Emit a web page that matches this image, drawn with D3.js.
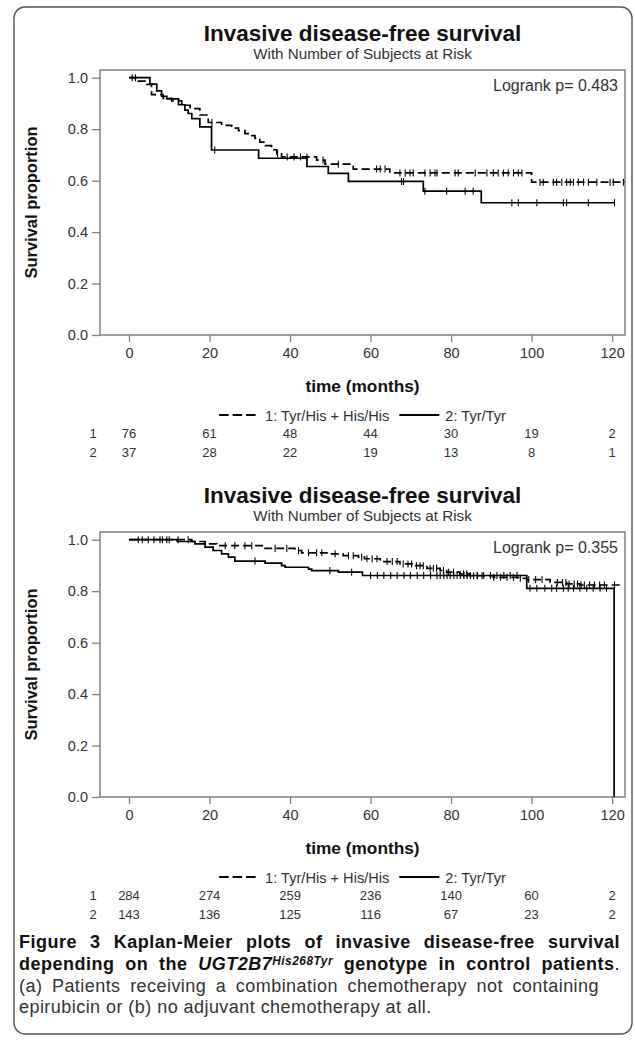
<!DOCTYPE html>
<html><head><meta charset="utf-8">
<script src="https://cdn.jsdelivr.net/npm/d3@7"></script>
<style>
body{margin:0;background:#fff}
svg{display:block}
.chart text{font-family:"Liberation Sans",Arial,sans-serif}
.cap text{font-family:"Liberation Sans",Arial,sans-serif}
</style>
</head><body>
<svg id="c" width="635" height="1045"></svg>
<script>
// ---------- shared labels ----------
const xTicks = [0, 20, 40, 60, 80, 100, 120];
const yTicks = [0, 0.2, 0.4, 0.6, 0.8, 1.0];
const groupLabels = ["1: Tyr/His + His/His", "2: Tyr/Tyr"];
const riskRowLabels = ["1", "2"];
const chartTitle = "Invasive disease-free survival";
const chartSubtitle = "With Number of Subjects at Risk";
const xLabel = "time (months)";
const yLabel = "Survival proportion";

// ---------- panel A (top) ----------
const aPValue = "0.483";
const aRisk1 = [76, 61, 48, 44, 30, 19, 2];
const aRisk2 = [37, 28, 22, 19, 13, 8, 1];
const aG1Times = [2.3, 4.4, 5.6, 8.5, 10.6, 13.1, 15.2, 17.6, 19.7, 23.0, 25.5, 27.2, 28.8, 30.1, 31.3, 32.5, 33.8, 35.4, 36.7, 37.9, 46.6, 48.7, 55.7, 64.8, 100.0];
const aG1Surv  = [0.987, 0.974, 0.934, 0.920, 0.910, 0.893, 0.880, 0.855, 0.826, 0.815, 0.804, 0.794, 0.783, 0.775, 0.764, 0.750, 0.736, 0.720, 0.704, 0.692, 0.680, 0.664, 0.645, 0.630, 0.594];
const aG1End = 123.2;
const aG1Censor = [0.8, 1.6, 20.6, 36.9, 39.3, 41.0, 42.6, 44.2, 48.2, 52.0, 61.5, 62.4, 63.6, 67.3, 68.6, 69.8, 70.6, 73.5, 74.8, 76.0, 76.5, 81.0, 81.8, 86.0, 88.9, 90.5, 91.7, 93.0, 94.2, 95.5, 96.7, 97.6, 102.1, 102.9, 105.4, 106.2, 107.5, 108.7, 109.6, 110.4, 111.6, 112.9, 114.1, 116.2, 119.5, 120.3, 122.8];
const aG2Times = [5.2, 6.9, 8.1, 9.4, 12.3, 13.9, 14.7, 15.6, 17.6, 20.5, 32.2, 44.2, 49.5, 54.5, 73.1, 87.5];
const aG2Surv  = [0.975, 0.949, 0.928, 0.918, 0.895, 0.874, 0.861, 0.841, 0.809, 0.719, 0.687, 0.655, 0.628, 0.597, 0.559, 0.514];
const aG2End = 120.6;
const aG2Censor = [21.3, 67.7, 68.2, 73.5, 78.9, 83.5, 85.5, 95.1, 96.7, 101.3, 107.9, 108.7, 114.1, 120.6];

// ---------- panel B (bottom) ----------
const bPValue = "0.355";
const bRisk1 = [284, 274, 259, 236, 140, 60, 2];
const bRisk2 = [143, 136, 125, 116, 67, 23, 2];
const bG1Times = [15.6, 18.9, 21.8, 33.4, 41.2, 42.9, 49.5, 53.2, 57.0, 58.5, 62.4, 67.3, 70.6, 74.0, 77.3, 78.9, 82.2, 84.7, 90.5, 97.1, 98.8, 104.6, 108.7, 112.0];
const bG1Surv  = [0.993, 0.984, 0.977, 0.966, 0.958, 0.949, 0.945, 0.938, 0.932, 0.926, 0.915, 0.906, 0.899, 0.889, 0.880, 0.874, 0.867, 0.860, 0.854, 0.850, 0.845, 0.834, 0.828, 0.824];
const bG1End = 122.4;
const bG1Censor = [2.3, 4.8, 7.7, 9.4, 12.2, 14.7, 23.9, 26.3, 28.8, 30.5, 36.3, 39.2, 42.1, 44.6, 46.6, 47.9, 51.2, 54.5, 55.7, 57.8, 59.1, 60.4, 61.6, 64.1, 65.4, 66.6, 68.1, 69.3, 70.2, 71.4, 72.3, 73.1, 74.8, 75.6, 76.4, 78.1, 79.4, 80.6, 83.1, 83.9, 85.6, 86.5, 87.7, 90.6, 92.3, 93.9, 95.5, 97.2, 99.3, 101.0, 102.6, 106.4, 107.7, 108.5, 109.3, 110.6, 111.4, 112.3, 113.1, 114.4, 115.6, 116.9, 118.1, 120.6];
const bG2Times = [12.0, 16.4, 18.9, 20.9, 23.0, 24.7, 26.3, 33.8, 37.9, 38.8, 44.6, 45.4, 52.0, 58.0, 98.8, 120.5];
const bG2Surv  = [0.993, 0.984, 0.971, 0.958, 0.945, 0.932, 0.917, 0.909, 0.899, 0.893, 0.886, 0.880, 0.874, 0.861, 0.811, 0.0];
const bG2End = 120.5;
const bG2Censor = [3.3, 6.2, 8.3, 10.0, 31.3, 49.9, 55.3, 60.0, 61.7, 63.3, 65.0, 66.6, 68.3, 69.9, 71.6, 73.2, 74.9, 76.5, 77.3, 78.2, 79.0, 79.8, 80.7, 81.5, 82.3, 83.2, 84.0, 84.8, 86.5, 88.1, 89.8, 91.4, 93.1, 94.7, 96.4, 99.6, 101.3, 103.3, 105.0, 106.2, 107.9, 109.1, 110.4, 112.0, 113.7, 115.3, 117.0, 118.6];

// ---------- caption ----------
const captionBold1 = "Figure 3 Kaplan-Meier plots of invasive disease-free survival";
const captionBold2a = "depending on the ";
const captionGene = "UGT2B7";
const captionSup = "His268Tyr";
const captionBold2b = " genotype in control patients";
const captionLine3 = "(a) Patients receiving a combination chemotherapy not containing";
const captionLine4 = "epirubicin or (b) no adjuvant chemotherapy at all.";

// ---------- drawing ----------
const svg = d3.select("#c");
svg.append("rect").attr("x", 14).attr("y", 7).attr("width", 618).attr("height", 1027)
  .attr("rx", 11).attr("fill", "none").attr("stroke", "#555").attr("stroke-width", 1.4);

const L = 100, R = 625, PH = 265;
const x = d3.scaleLinear().domain([-7.2, 123.2]).range([L, R]);
const FRAME = "#808080", TXT = "#333";

function makeSeries(times, surv, end) {
  const pts = [{t: 0, s: 1}];
  times.forEach((t, i) => pts.push({t, s: surv[i]}));
  pts.push({t: end, s: surv[surv.length - 1]});
  return pts;
}
function survAt(pts, t) {
  let s = 1;
  for (const p of pts) { if (p.t <= t) s = p.s; }
  return s;
}

function panel(top, id, pval, risk1, risk2, g1, g1c, g2, g2c) {
  const g = svg.append("g").attr("class", "chart");
  const y = d3.scaleLinear().domain([0, 1.03]).range([top + PH, top]);
  const bot = top + PH, cx = (L + R) / 2;

  g.append("text").attr("x", cx).attr("y", top - 29).attr("text-anchor", "middle")
    .attr("font-size", 22.5).attr("font-weight", "bold").attr("fill", "#111").text(chartTitle);
  g.append("text").attr("x", cx).attr("y", top - 11.5).attr("text-anchor", "middle")
    .attr("font-size", 15.2).attr("fill", TXT).text(chartSubtitle);

  const clipId = "clip" + id;
  g.append("clipPath").attr("id", clipId).append("rect")
    .attr("x", L).attr("y", top - 2).attr("width", R - L).attr("height", PH + 4);

  const ya = g.append("g").attr("transform", `translate(${L},0)`)
    .call(d3.axisLeft(y).tickValues(yTicks).tickFormat(d3.format(".1f")).tickSize(8).tickPadding(4));
  const xa = g.append("g").attr("transform", `translate(0,${bot})`)
    .call(d3.axisBottom(x).tickValues(xTicks).tickFormat(d3.format("d")).tickSize(7).tickPadding(6));
  [ya, xa].forEach(a => {
    a.select(".domain").remove();
    a.selectAll(".tick line").attr("stroke", FRAME).attr("stroke-width", 1.3);
    a.selectAll(".tick text").attr("font-size", 14.5).attr("fill", TXT)
      .attr("font-family", '"Liberation Sans",Arial,sans-serif');
  });
  g.append("rect").attr("x", L).attr("y", top).attr("width", R - L).attr("height", PH)
    .attr("fill", "none").attr("stroke", FRAME).attr("stroke-width", 1.5);

  g.append("text").attr("transform", `translate(37,${top + PH / 2}) rotate(-90)`)
    .attr("text-anchor", "middle").attr("font-size", 16.5).attr("font-weight", "bold")
    .attr("fill", "#111").text(yLabel);
  g.append("text").attr("x", cx).attr("y", bot + 57).attr("text-anchor", "middle")
    .attr("font-size", 17.3).attr("font-weight", "bold").attr("fill", "#111").text(xLabel);

  g.append("text").attr("x", 618).attr("y", top + 20.5).attr("text-anchor", "end")
    .attr("font-size", 16).attr("fill", TXT).text("Logrank p= " + pval);

  const line = d3.line().x(d => x(d.t)).y(d => y(d.s)).curve(d3.curveStepAfter);
  const plot = g.append("g").attr("clip-path", `url(#${clipId})`);
  const series = [
    {pts: g1, cen: g1c, dash: "8,4"},
    {pts: g2, cen: g2c, dash: null}
  ];
  series.forEach(sr => {
    plot.append("path").attr("d", line(sr.pts)).attr("fill", "none").attr("stroke", "#000")
      .attr("stroke-width", 1.7).attr("stroke-dasharray", sr.dash);
    plot.selectAll(null).data(sr.cen).enter().append("line")
      .attr("x1", d => x(d)).attr("x2", d => x(d))
      .attr("y1", d => y(survAt(sr.pts, d)) - 3.5).attr("y2", d => y(survAt(sr.pts, d)) + 3.5)
      .attr("stroke", "#000").attr("stroke-width", 1.1);
  });

  const lg = g.append("g");
  let lx = 0;
  const ly = bot + 80;
  groupLabels.forEach((lab, i) => {
    lg.append("line").attr("x1", lx).attr("x2", lx + 40).attr("y1", ly).attr("y2", ly)
      .attr("stroke", "#000").attr("stroke-width", 1.8).attr("stroke-dasharray", i === 0 ? "9.5,4" : null);
    const t = lg.append("text").attr("x", lx + 46).attr("y", ly + 5.5).attr("font-size", 14.6)
      .attr("fill", TXT).text(lab);
    lx += 46 + t.node().getComputedTextLength() + 10;
  });
  const lw = lx - 10;
  lg.attr("transform", `translate(${cx - lw / 2},0)`);

  [risk1, risk2].forEach((row, r) => {
    const yy = bot + 103 + r * 19;
    g.append("text").attr("x", 93).attr("y", yy).attr("text-anchor", "middle")
      .attr("font-size", 13).attr("fill", TXT).text(riskRowLabels[r]);
    g.selectAll(null).data(row).enter().append("text")
      .attr("x", (d, i) => x(xTicks[i])).attr("y", yy).attr("text-anchor", "middle")
      .attr("font-size", 13).attr("fill", TXT).text(d => d);
  });
}

panel(70, "a", aPValue, aRisk1, aRisk2,
  makeSeries(aG1Times, aG1Surv, aG1End), aG1Censor,
  makeSeries(aG2Times, aG2Surv, aG2End), aG2Censor);
panel(532, "b", bPValue, bRisk1, bRisk2,
  makeSeries(bG1Times, bG1Surv, bG1End), bG1Censor,
  makeSeries(bG2Times, bG2Surv, bG2End), bG2Censor);

// ---------- caption ----------
const cap = svg.append("g").attr("class", "cap");
const CX = 19;
function justify(t, width) {
  let len = t.node().getComputedTextLength();
  const txt = t.text();
  const spaces = (txt.match(/ /g) || []).length;
  if (len >= width) return;
  const ls = Math.min(0.5, (width - len) * 0.5 / txt.length);
  t.attr("letter-spacing", ls);
  len = t.node().getComputedTextLength();
  if (spaces > 0 && len < width) t.attr("word-spacing", (width - len) / spaces);
}
const probeB = cap.append("text").attr("font-size", 16).attr("font-weight", "bold").text(captionBold1);
const boldSize = Math.min(18, 16 * 594 / probeB.node().getComputedTextLength());
probeB.remove();
const probeR = cap.append("text").attr("font-size", 16).text(captionLine4);
const regSize = Math.min(18, 16 * 441 / probeR.node().getComputedTextLength());
probeR.remove();

const c1 = cap.append("text").attr("x", CX).attr("y", 948).attr("font-size", boldSize)
  .attr("font-weight", "bold").attr("fill", "#111").text(captionBold1);
justify(c1, 601);
const c2 = cap.append("text").attr("x", CX).attr("y", 970).attr("font-size", boldSize)
  .attr("font-weight", "bold").attr("fill", "#111");
c2.append("tspan").text(captionBold2a);
c2.append("tspan").attr("font-style", "italic").text(captionGene);
c2.append("tspan").attr("font-style", "italic").attr("font-size", boldSize * 0.66).attr("dy", -5).text(captionSup);
c2.append("tspan").attr("dy", 5).text(captionBold2b);
c2.append("tspan").attr("font-weight", "normal").text(".");
justify(c2, 601);
const c3 = cap.append("text").attr("x", CX).attr("y", 991.5).attr("font-size", regSize)
  .attr("fill", "#333").text(captionLine3);
justify(c3, 580);
const c4 = cap.append("text").attr("x", CX).attr("y", 1013).attr("font-size", regSize)
  .attr("fill", "#333").text(captionLine4);
c4.attr("letter-spacing", c3.attr("letter-spacing"));
</script>
</body></html>
